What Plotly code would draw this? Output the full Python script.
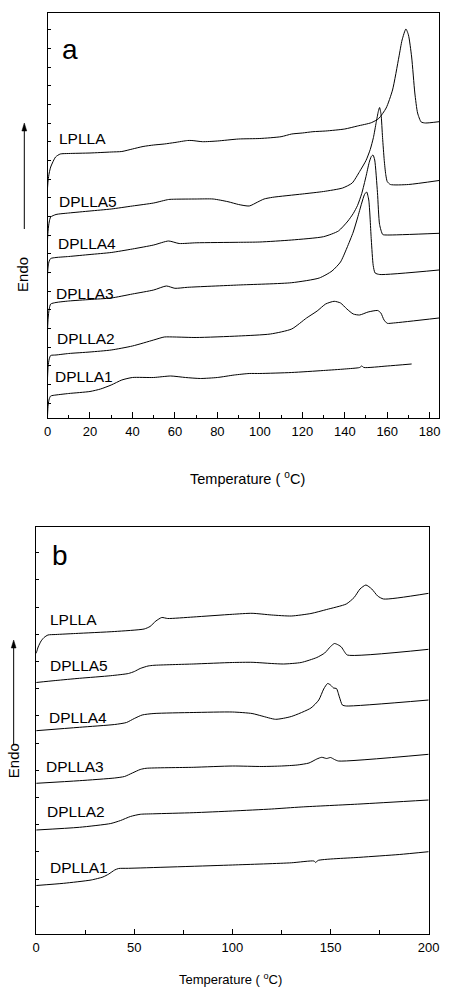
import plotly.graph_objects as go

# ---------------- Panel (a) data: Temperature (°C) vs heat flow (a.u., endo up, offset curves)
a_LPLLA_T = [0, 0.3, 0.8, 1.5, 2.3, 3.8, 6, 10, 20, 30, 35, 40, 45, 50, 55, 60, 66, 68, 73, 80, 90, 100, 110,
             115, 120, 125, 131, 140, 146, 152.5, 156, 159.5, 162.5, 165.5, 167, 168.8, 170, 171.5, 173, 174.3,
             176, 178, 184.4]
a_LPLLA_Y = [229.5, 237.5, 244.5, 250.5, 254.5, 260.5, 263.5, 264, 264.5, 265.5, 266, 268.5, 271, 272.5, 273.5,
             275, 277, 277, 275.8, 276.5, 278.5, 279, 280.8, 283.5, 284.5, 285.8, 286.5, 288.5, 291.5, 294.8,
             299, 309.5, 327.5, 360.5, 377.5, 388.5, 382.5, 360.5, 324.5, 304.5, 295.5, 294.5, 295.8]

a_DPLLA5_T = [0, 0.3, 0.8, 1.5, 4, 10, 20, 30, 40, 50, 57, 60, 70, 78, 85, 90, 95, 99, 102, 106, 120, 130, 139,
              143.5, 147, 150, 152, 153.5, 154.8, 155.8, 156.4, 157.1, 157.8, 158.6, 159.3, 160, 161.5, 170, 184.4]
a_DPLLA5_Y = [177.5, 187.5, 195.5, 200.5, 203, 204.5, 206.5, 208.5, 211.5, 214.5, 218, 218.3, 218.5, 218.5,
              215.8, 213, 211.5, 215.5, 218.5, 220.2, 223.5, 226, 229.5, 234.5, 246, 257, 268, 280, 295, 306,
              310, 303, 280, 257, 243, 236, 233, 233, 237]

a_DPLLA4_T = [0, 0.3, 0.8, 1.5, 4, 10, 20, 30, 40, 50, 57, 62, 70, 90, 100, 115, 130, 137, 141.5, 144, 146, 148,
              150, 151.5, 152.5, 153.3, 154.1, 155.4, 156.4, 157.9, 160, 184.4]
a_DPLLA4_Y = [142.5, 151.5, 156.5, 159, 160, 161, 163, 165, 168.5, 172.5, 176.5, 174, 174.7, 175.2, 175.5, 177.5,
              180.8, 186.5, 196.5, 204, 212, 224, 241, 255, 261, 262.5, 257.5, 225, 193, 183, 182.5, 184.2]

a_DPLLA3_T = [0, 0.3, 0.8, 1.5, 4, 10, 20, 30, 40, 50, 56, 60, 66, 90, 115, 128, 134, 138, 141, 144, 146, 148,
              149.3, 150.3, 151.3, 152.5, 153.4, 154.3, 156.5, 184.4]
a_DPLLA3_Y = [87.5, 99.5, 108.5, 113.5, 115, 116.5, 118, 119.5, 123.5, 127.5, 131.5, 129.2, 130.2, 132.5, 134.8,
              139.5, 146.5, 155.5, 169.5, 185.5, 199.5, 214.5, 223, 225.5, 217.5, 177.5, 152, 144.5, 143, 147.5]

a_DPLLA2_T = [0, 0.3, 0.8, 1.5, 4, 10, 20, 30, 40, 50, 55, 60, 70, 90, 105, 115, 122, 127, 131, 135, 138, 141,
              144, 147, 151, 155.5, 157, 158.5, 160, 163, 184.4]
a_DPLLA2_Y = [39.5, 51.5, 58.5, 62, 62.5, 64, 65.5, 67.5, 71.5, 77.5, 80.5, 80.5, 80, 81.5, 83.5, 88.5, 99.5,
              106.5, 113.5, 116.2, 114.5, 108.5, 103.5, 102.5, 105.5, 107, 104.5, 97.5, 94.2, 94.5, 99.5]

a_DPLLA1_T = [0, 0.3, 0.8, 1.5, 4, 10, 20, 25, 30, 35, 40, 50, 58, 65, 72, 80, 88, 95, 100, 115, 130, 140, 147,
              148, 149, 160, 171.5]
a_DPLLA1_Y = [1.5, 12.5, 18.5, 21.5, 22.5, 24, 26, 28.5, 32.5, 37.5, 40, 40, 41.5, 40, 39, 40, 42.5, 44, 44, 45,
              47, 48.5, 50, 51.5, 50, 51.5, 53.5]

# ---------------- Panel (b) data
b_LPLLA_T = [0, 1, 2.5, 4, 6, 10, 20, 40, 55, 58, 61, 64, 67, 80, 100, 110, 120, 130, 140, 148, 158, 162, 165,
             168, 171, 174, 177, 200]
b_LPLLA_Y = [280.2, 286.5, 292.5, 296, 298.5, 299, 300, 302, 304.5, 307, 312.5, 316, 315, 316.5, 319.2, 320.2,
             318.5, 317.5, 320, 324, 329.5, 336, 344.5, 348.5, 344.5, 337.5, 334.5, 340.2]

b_DPLLA5_T = [0, 10, 22, 38, 47, 50, 53, 57, 60, 80, 100, 110, 120, 126, 135, 143, 147, 150, 152, 154, 155.5,
              157, 158.5, 200]
b_DPLLA5_Y = [251, 253, 255.2, 257.8, 260, 262, 265, 267.5, 268.2, 269.5, 271, 271.2, 270, 269.5, 271, 276,
              280.5, 287, 290, 288.5, 286.5, 282, 278.5, 284.2]

b_DPLLA4_T = [0, 22, 40, 46, 50, 54, 60, 80, 100, 110, 115, 122, 130, 140, 144, 146.5, 148.5, 150, 151.5, 153,
              154.5, 156, 158, 200]
b_DPLLA4_Y = [202.8, 206.2, 209, 211, 215, 218.5, 220, 221, 221.5, 220, 217.5, 214.2, 217, 225.5, 233.5, 244.5,
              250, 248.5, 245.5, 245, 236.5, 228.5, 227.5, 233.5]

b_DPLLA3_T = [0, 22, 40, 45, 49, 53, 56, 80, 100, 115, 125, 133, 139, 143, 145.5, 148, 150, 152, 154, 200]
b_DPLLA3_Y = [150.2, 152.8, 155.5, 157, 160.5, 164, 165.2, 166.2, 167.5, 167, 167.5, 168.5, 170.5, 174.5, 176.2,
              175, 176, 174, 172.5, 179.2]

b_DPLLA2_T = [0, 22, 38, 43, 48, 53, 60, 80, 100, 120, 135, 165, 200]
b_DPLLA2_Y = [103.5, 106.2, 110, 113, 117, 119.2, 119.7, 120.8, 122.5, 124.5, 126.5, 129.5, 133.5]

b_DPLLA1_T = [0, 14, 28, 34, 37, 40, 42, 47, 100, 130, 141.5, 142.5, 143.5, 165, 185, 200]
b_DPLLA1_Y = [48, 50.2, 53.5, 56.5, 59.5, 63.5, 65, 65.2, 68.5, 70.7, 72.5, 71, 73, 76.2, 79, 81.8]

sample_names = ["LPLLA", "DPLLA5", "DPLLA4", "DPLLA3", "DPLLA2", "DPLLA1"]

# label anchor positions (data coords) for curve names
a_label_T = [4.5, 4.5, 4.2, 3.0, 3.5, 2.7]
a_label_Y = [278.5, 215.8, 173.5, 123.5, 78.5, 40.8]
b_label_T = [5.8, 5.8, 5.4, 4.1, 4.4, 5.8]
b_label_Y = [314.2, 268.5, 216.2, 166.8, 121.8, 66.2]

x_ticks_a = [0, 20, 40, 60, 80, 100, 120, 140, 160, 180]
x_ticks_b = [0, 50, 100, 150, 200]

FONT = "Liberation Sans, Arial, sans-serif"
W, H = 451, 987

fig = go.Figure()

a_series = [(a_LPLLA_T, a_LPLLA_Y), (a_DPLLA5_T, a_DPLLA5_Y), (a_DPLLA4_T, a_DPLLA4_Y),
            (a_DPLLA3_T, a_DPLLA3_Y), (a_DPLLA2_T, a_DPLLA2_Y), (a_DPLLA1_T, a_DPLLA1_Y)]
b_series = [(b_LPLLA_T, b_LPLLA_Y), (b_DPLLA5_T, b_DPLLA5_Y), (b_DPLLA4_T, b_DPLLA4_Y),
            (b_DPLLA3_T, b_DPLLA3_Y), (b_DPLLA2_T, b_DPLLA2_Y), (b_DPLLA1_T, b_DPLLA1_Y)]

for name, (t, y) in zip(sample_names, a_series):
    fig.add_trace(go.Scatter(x=t, y=y, mode="lines", name=name, xaxis="x", yaxis="y",
                             line=dict(color="black", width=1, shape="spline", smoothing=0.6),
                             showlegend=False))
for name, (t, y) in zip(sample_names, b_series):
    fig.add_trace(go.Scatter(x=t, y=y, mode="lines", name=name, xaxis="x2", yaxis="y2",
                             line=dict(color="black", width=1, shape="spline", smoothing=0.6),
                             showlegend=False))

annotations = []
for name, tx, ty in zip(sample_names, a_label_T, a_label_Y):
    annotations.append(dict(x=tx, y=ty, xref="x", yref="y", text=name, showarrow=False,
                            xanchor="left", yanchor="middle", font=dict(size=15.5, family=FONT, color="black")))
for name, tx, ty in zip(sample_names, b_label_T, b_label_Y):
    annotations.append(dict(x=tx, y=ty, xref="x2", yref="y2", text=name, showarrow=False,
                            xanchor="left", yanchor="middle", font=dict(size=15.5, family=FONT, color="black")))

annotations += [
    dict(x=10.6, y=367.5, xref="x", yref="y", text="a", showarrow=False, xanchor="center", yanchor="middle",
         font=dict(size=28, family=FONT, color="black")),
    dict(x=12.3, y=378.5, xref="x2", yref="y2", text="b", showarrow=False, xanchor="center", yanchor="middle",
         font=dict(size=28, family=FONT, color="black")),
    # axis titles
    dict(x=251.7 / W, y=1 - 478.3 / H, xref="paper", yref="paper", text="Temperature ( <sup>o</sup>C)",
         showarrow=False, xanchor="center", yanchor="middle", font=dict(size=14.5, family=FONT, color="black")),
    dict(x=234.7 / W, y=1 - 979.3 / H, xref="paper", yref="paper", text="Temperature ( <sup>o</sup>C)",
         showarrow=False, xanchor="center", yanchor="middle", font=dict(size=13, family=FONT, color="black")),
    # Endo labels
    dict(x=18.5 / W, y=1 - 274 / H, xref="paper", yref="paper", text="Endo", textangle=-90,
         showarrow=False, xanchor="center", yanchor="middle", font=dict(size=15, family=FONT, color="black")),
    dict(x=10 / W, y=1 - 760.5 / H, xref="paper", yref="paper", text="Endo", textangle=-90,
         showarrow=False, xanchor="center", yanchor="middle", font=dict(size=15, family=FONT, color="black")),
]

# Endo arrows as shapes (shaft + filled head), pixel positions converted to paper fractions
shapes = []
for hx, hy, length in [(21, 123, 106), (10, 640, 105)]:
    shapes.append(dict(type="line", xref="paper", yref="paper",
                       x0=hx / W, x1=hx / W, y0=1 - (hy + length) / H, y1=1 - (hy + 6) / H,
                       line=dict(color="black", width=1)))
    path = "M {:.5f},{:.5f} L {:.5f},{:.5f} L {:.5f},{:.5f} Z".format(
        hx / W, 1 - hy / H, (hx - 2.5) / W, 1 - (hy + 8) / H, (hx + 2.5) / W, 1 - (hy + 8) / H)
    shapes.append(dict(type="path", xref="paper", yref="paper", path=path,
                       fillcolor="black", line=dict(color="black", width=0.5)))

axis_common = dict(showline=True, mirror=True, linecolor="black", linewidth=1, showgrid=False,
                   zeroline=False, ticks="inside", tickcolor="black", tickwidth=1,
                   tickfont=dict(size=13, family=FONT, color="black"))

fig.update_layout(
    width=W, height=H,
    margin=dict(l=0, r=0, t=0, b=0),
    paper_bgcolor="white", plot_bgcolor="white",
    showlegend=False,
    annotations=annotations,
    shapes=shapes,
    xaxis=dict(domain=[45 / W, 450 / W], range=[0, 184.4], anchor="y",
               tickmode="array", tickvals=x_ticks_a, ticklen=6, ticklabelstandoff=2,
               minor=dict(ticks="inside", dtick=10, tick0=0, ticklen=3, tickcolor="black"),
               **axis_common),
    yaxis=dict(domain=[1 - 417.5 / H, 1 - 12.7 / H], range=[0, 404.8], anchor="x",
               showticklabels=False, tick0=14.2, dtick=18.67, ticklen=3, **axis_common),
    xaxis2=dict(domain=[33.3 / W, 439.3 / W], range=[0, 200], anchor="y2",
                tickmode="array", tickvals=x_ticks_b, ticklen=5, ticklabelstandoff=2,
                minor=dict(ticks="inside", dtick=25, tick0=0, ticklen=4, tickcolor="black"),
                **axis_common),
    yaxis2=dict(domain=[1 - 933.5 / H, 1 - 526.5 / H], range=[0, 407], anchor="x2",
                showticklabels=False, tick0=0, dtick=27.2, ticklen=3, **axis_common),
)

fig.write_html("out.html", config={"displayModeBar": False},
               post_script="document.body.style.margin='0';document.body.style.padding='0';"
                           "document.body.style.overflow='hidden';")
